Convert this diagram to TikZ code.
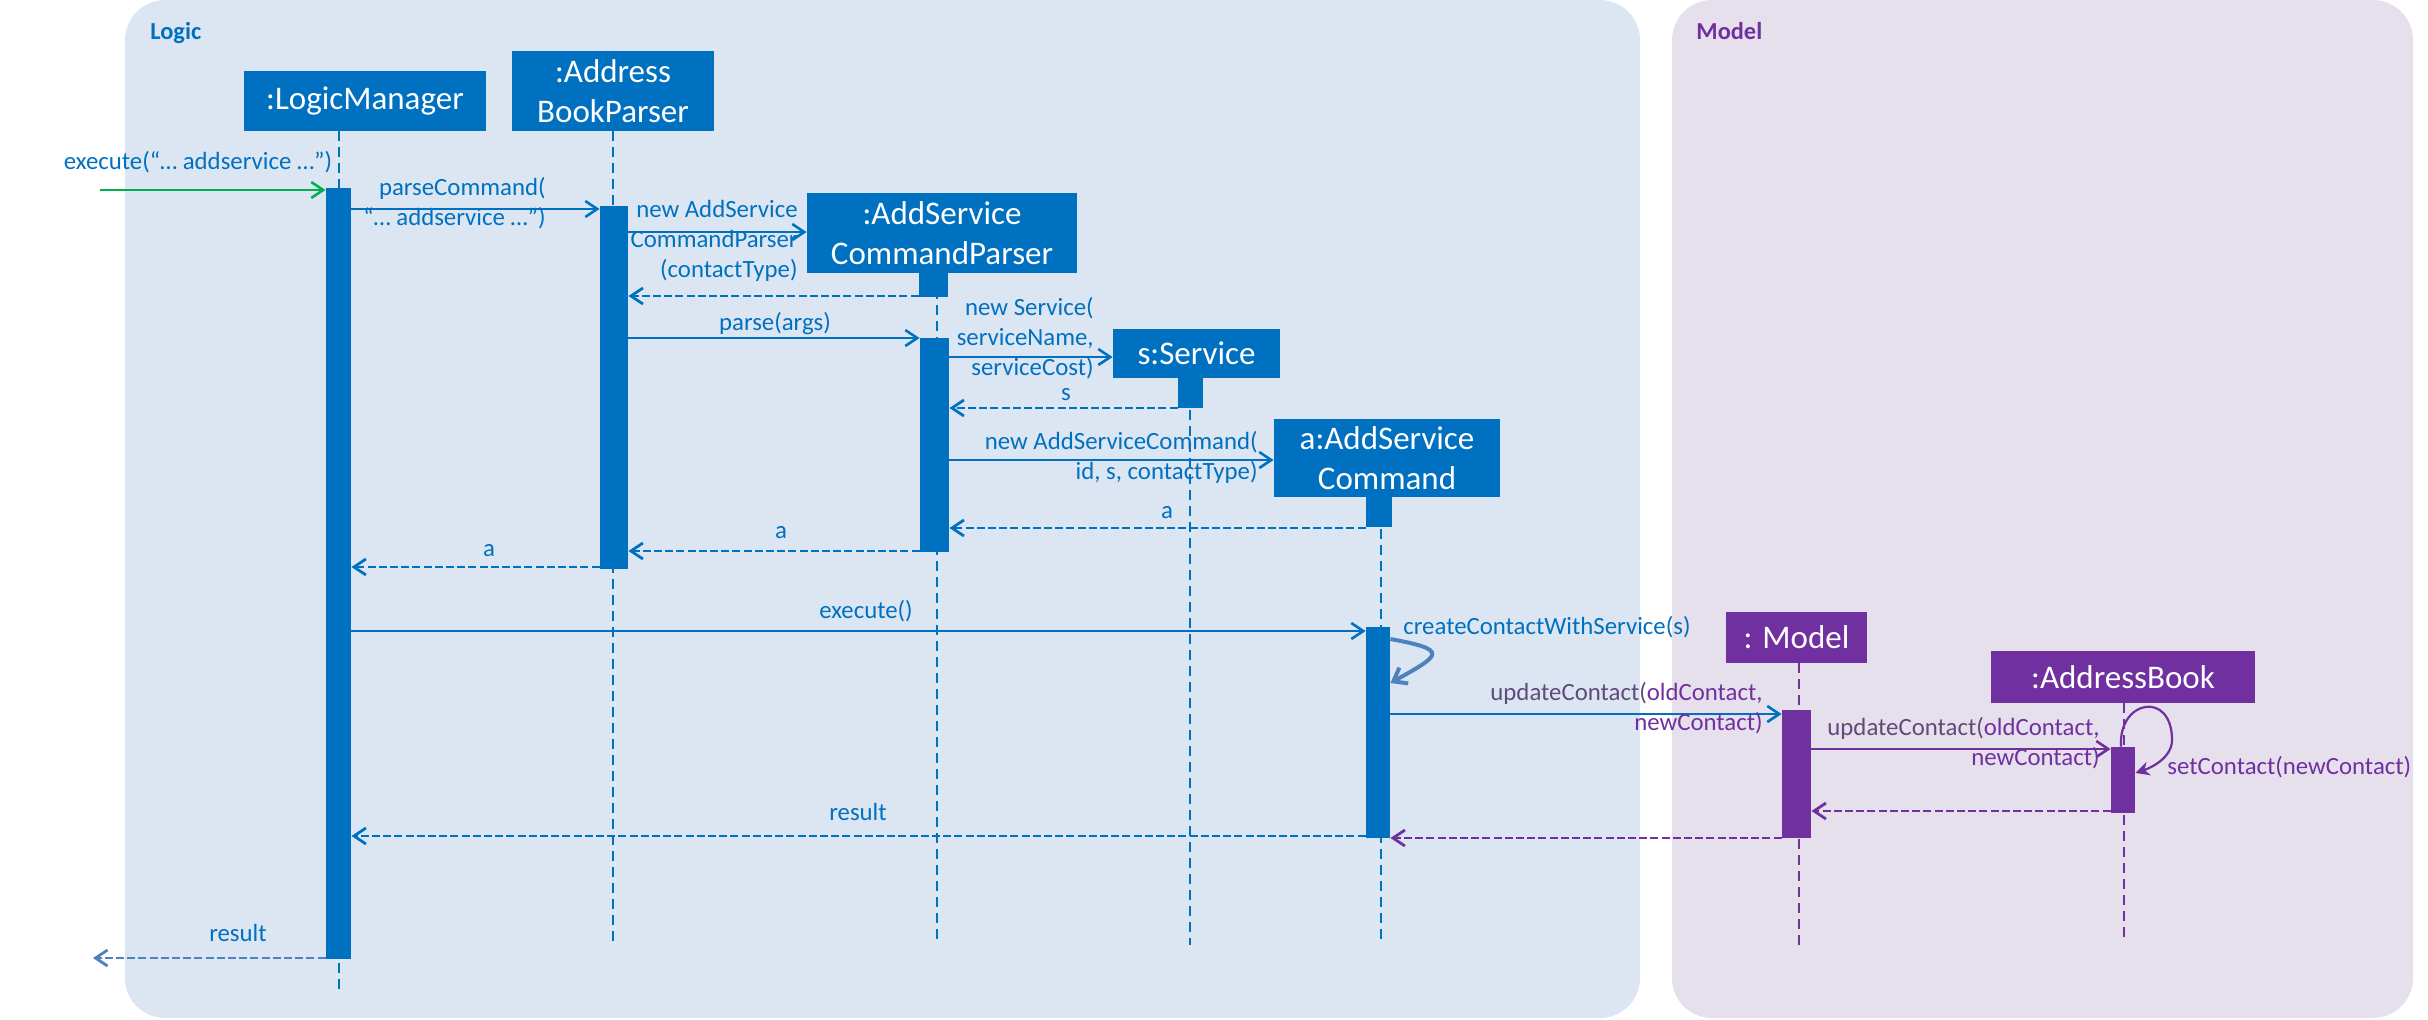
\documentclass[tikz,border=0pt]{standalone}
\usepackage{fontspec}
\setmainfont{Carlito}
\usetikzlibrary{arrows.meta,fit,calc}
\definecolor{lblue}{HTML}{0070C0}
\definecolor{lpurple}{HTML}{7030A0}
\definecolor{logicbg}{HTML}{DCE6F2}
\definecolor{modelbg}{HTML}{E6E0EC}
\definecolor{steel}{HTML}{4F81BD}
\definecolor{grn}{HTML}{00B050}
\definecolor{gpurple}{HTML}{604A7B}
\begin{document}
\begin{tikzpicture}[x=0.5pt,y=-0.5pt,
  lbl/.style={font=\fontsize{12.4}{15}\selectfont, inner sep=0pt},
  title/.style={font=\fontsize{12.2}{15}\selectfont\bfseries, inner sep=0pt, anchor=west},
  objbox/.style={inner sep=0pt, draw=none},
  objtext/.style={inner sep=0pt, font=\fontsize{16.5}{20}\selectfont, text=white, align=center},
  actbar/.style={inner sep=0pt, draw=none},
  life/.style={line width=0.9pt, dash pattern=on 5pt off 3pt},
  msg/.style={line width=1.3pt, -{Straight Barb[length=6pt,width=8pt]}},
  ret/.style={line width=1.4pt, dash pattern=on 4pt off 1.6pt, -{Straight Barb[length=6pt,width=8pt]}},
]
\useasboundingbox (0,0) rectangle (2428,1019);
% panels
\fill[logicbg, rounded corners=20pt] (125,0) rectangle (1640,1018);
\fill[modelbg, rounded corners=20pt] (1672,0) rectangle (2413,1018);
\node[title, text=lblue] (tLogic) at (150,33) {Logic};
\node[title, text=lpurple] (tModel) at (1696,31) {Model};

% object boxes
\node[objbox, fill=lblue, fit={(244,71) (486,131)}] (boxLM) {};
\node[objtext] (tLM) at (boxLM.center) {:LogicManager};
\node[objbox, fill=lblue, fit={(512,51) (714,131)}] (boxABP) {};
\node[objtext] (tABP) at (boxABP.center) {:Address\\BookParser};
\node[objbox, fill=lblue, fit={(807,193) (1077,273)}] (boxACP) {};
\node[objtext] (tACP) at (boxACP.center) {:AddService\\CommandParser};
\node[objbox, fill=lblue, fit={(1113,329) (1280,378)}] (boxS) {};
\node[objtext] (tS) at (boxS.center) {s:Service};
\node[objbox, fill=lblue, fit={(1274,419) (1500,497)}] (boxASC) {};
\node[objtext] (tASC) at (boxASC.center) {a:AddService\\Command};
\node[objbox, fill=lpurple, fit={(1726,612) (1867,663)}] (boxM) {};
\node[objtext] (tM) at (boxM.center) {: Model};
\node[objbox, fill=lpurple, fit={(1991,651) (2255,703)}] (boxAB) {};
\node[objtext] (tAB) at (boxAB.center) {:AddressBook};

% lifeline reference points
\coordinate (xLM) at (339,0);
\coordinate (xABP) at (613,0);
\coordinate (xACP) at (937,0);
\coordinate (xS) at (1190,0);
\coordinate (xASC) at (1381,0);
\coordinate (xM) at (1799,0);
\coordinate (xAB) at (2124,0);

% lifelines
\draw[life, lblue] (xLM |- boxLM.south) -- (xLM |- 0,993);
\draw[life, lblue] (xABP |- boxABP.south) -- (xABP |- 0,945);
\draw[life, lblue] (xACP |- boxACP.south) -- (xACP |- 0,945);
\draw[life, lblue] (xS |- boxS.south) -- (xS |- 0,945);
\draw[life, lblue] (xASC |- boxASC.south) -- (xASC |- 0,945);
\draw[life, lpurple] (xM |- boxM.south) -- (xM |- 0,945);
\draw[life, lpurple] (xAB |- boxAB.south) -- (xAB |- 0,938);

% activation bars
\node[actbar, fill=lblue, fit={(326,188) (351,959)}] (actLM) {};
\node[actbar, fill=lblue, fit={(600,206) (628,569)}] (actABP) {};
\node[actbar, fill=lblue, fit={(919,273) (948,297)}] (actACPa) {};
\node[actbar, fill=lblue, fit={(920,338) (949,552)}] (actACP) {};
\node[actbar, fill=lblue, fit={(1178,378) (1203,408)}] (actSa) {};
\node[actbar, fill=lblue, fit={(1366,497) (1392,527)}] (actASCa) {};
\node[actbar, fill=lblue, fit={(1366,627) (1390,838)}] (actASC) {};
\node[actbar, fill=lpurple, fit={(1782,710) (1811,838)}] (actM) {};
\node[actbar, fill=lpurple, fit={(2111,747) (2135,813)}] (actAB) {};

% messages
\coordinate (extIn) at (100,190);
\draw[msg, grn] (extIn) -- (actLM.west |- extIn);
\node[lbl, text=lblue] (lExec) at (198,162) {execute(“… addservice …”)};

\draw[msg, lblue] (actLM.east |- 0,209) -- (actABP.west |- 0,209);
\node[lbl, text=lblue, anchor=east, align=right] (lParse) at (546,203) {parseCommand(\\“… addservice …”)};

\draw[msg, lblue] (actABP.east |- 0,232) -- (boxACP.west |- 0,232);
\node[lbl, text=lblue, anchor=east, align=right] (lNewACP) at (798,241) {new AddService\\CommandParser\\(contactType)};

\draw[ret, lblue] (actACPa.west |- 0,296) -- (actABP.east |- 0,296);

\draw[msg, lblue] (actABP.east |- 0,338) -- (actACP.west |- 0,338);
\node[lbl, text=lblue] (lParseArgs) at (775,324) {parse(args)};

\draw[msg, lblue] (actACP.east |- 0,357) -- (boxS.west |- 0,357);
\node[lbl, text=lblue, anchor=east, align=right] (lNewS) at (1094,338) {new Service(\\serviceName,\\serviceCost)};

\draw[ret, lblue] (actSa.west |- 0,408) -- (actACP.east |- 0,408);
\node[lbl, text=lblue] (lS) at (1066,395) {s};

\draw[msg, lblue] (actACP.east |- 0,460) -- (boxASC.west |- 0,460);
\node[lbl, text=lblue, anchor=east, align=right] (lNewASC) at (1258,457) {new AddServiceCommand(\\id, s, contactType)};

\draw[ret, lblue] (actASCa.west |- 0,528) -- (actACP.east |- 0,528);
\node[lbl, text=lblue] (lA1) at (1167,513) {a};

\draw[ret, lblue] (actACP.west |- 0,551) -- (actABP.east |- 0,551);
\node[lbl, text=lblue] (lA2) at (781,533) {a};

\draw[ret, lblue] (actABP.west |- 0,567) -- (actLM.east |- 0,567);
\node[lbl, text=lblue] (lA3) at (489,551) {a};

\draw[msg, lblue] (actLM.east |- 0,631) -- (actASC.west |- 0,631);
\node[lbl, text=lblue] (lExec2) at (866,611) {execute()};

\draw[steel, line width=2pt, -{Straight Barb[length=6pt,width=9pt]}]
  (actASC.east |- 0,639) .. controls +(60,11) and +(50,-28) .. (actASC.east |- 0,683);
\node[lbl, text=lblue, anchor=west] (lCreate) at (1403,627) {createContactWithService(s)};

\draw[msg, lblue] (actASC.east |- 0,714) -- (actM.west |- 0,714);
\node[lbl, text=lpurple, anchor=east, align=right] (lUpd1) at (1763,708) {{\color{gpurple}updateContact(}oldContact,\\newContact)};

\draw[msg, lpurple] (actM.east |- 0,749) -- (actAB.west |- 0,749);
\node[lbl, text=lpurple, anchor=east, align=right] (lUpd2) at (2100,743) {{\color{gpurple}updateContact(}oldContact,\\newContact)};

\draw[lpurple, line width=1.1pt, -{Stealth[length=7pt,width=7pt]}]
  ($(actAB.north)+(-2,0)$) .. controls +(-3,-47) and +(0,-50) .. (2172,740)
  .. controls +(0,18) and +(15,-5) .. (actAB.east |- 0,773);
\node[lbl, text=lpurple, anchor=west] (lSet) at (2167,767) {setContact(newContact)};

\draw[ret, lpurple] (actAB.west |- 0,811) -- (actM.east |- 0,811);
\draw[ret, lpurple] (actM.west |- 0,838) -- (actASC.east |- 0,838);

\draw[ret, lblue] (actASC.west |- 0,836) -- (actLM.east |- 0,836);
\node[lbl, text=lblue] (lRes1) at (858,812) {result};

\coordinate (extOut) at (93,958);
\draw[ret, steel] (actLM.west |- extOut) -- (extOut);
\node[lbl, text=lblue] (lRes2) at (238,933) {result};
\end{tikzpicture}
\end{document}
